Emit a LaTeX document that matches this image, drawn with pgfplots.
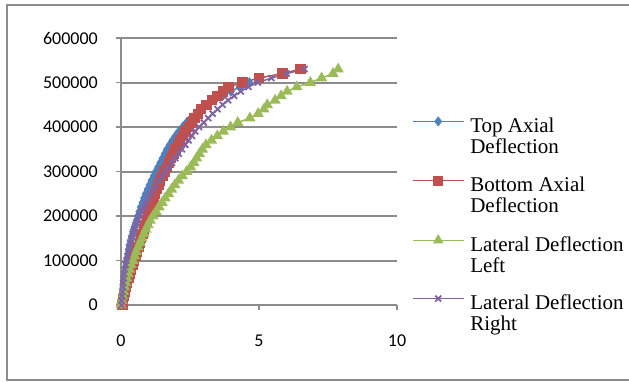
\documentclass[border=0pt]{standalone}
\usepackage{pgfplots}
\pgfplotsset{compat=1.18}
\usepackage{fontspec}
\setmainfont{Liberation Serif}
\newfontfamily\tickfont{Carlito}

\definecolor{topc}{HTML}{4F81BD}
\definecolor{botc}{HTML}{C0504D}
\definecolor{leftc}{HTML}{9BBB59}
\definecolor{rightc}{HTML}{8064A2}
\definecolor{gridc}{HTML}{8C8C8C}

% load (N) against deflection (mm)
\pgfplotstableread{
x y
0.00 0
0.03 10000
0.05 20000
0.07 30000
0.09 40000
0.11 50000
0.13 60000
0.15 70000
0.18 80000
0.20 90000
0.23 100000
0.26 110000
0.29 120000
0.32 130000
0.35 140000
0.39 150000
0.43 160000
0.47 170000
0.52 180000
0.57 190000
0.62 200000
0.67 210000
0.72 220000
0.78 230000
0.84 240000
0.90 250000
0.97 260000
1.04 270000
1.11 280000
1.19 290000
1.27 300000
1.35 310000
1.43 320000
1.51 330000
1.59 340000
1.67 350000
1.77 360000
1.87 370000
1.98 380000
2.10 390000
2.24 400000
2.38 410000
2.54 420000
2.72 430000
2.92 440000
3.14 450000
3.40 460000
3.68 470000
3.98 480000
4.30 490000
4.65 500000
}\toptable

\pgfplotstableread{
x y
0.05 0
0.07 10000
0.10 20000
0.14 30000
0.18 40000
0.22 50000
0.27 60000
0.32 70000
0.37 80000
0.42 90000
0.48 100000
0.53 110000
0.58 120000
0.63 130000
0.68 140000
0.73 150000
0.78 160000
0.83 170000
0.88 180000
0.93 190000
0.98 200000
1.03 210000
1.08 220000
1.13 230000
1.18 240000
1.24 250000
1.30 260000
1.36 270000
1.42 280000
1.50 290000
1.58 300000
1.66 310000
1.74 320000
1.82 330000
1.90 340000
1.98 350000
2.06 360000
2.14 370000
2.24 380000
2.34 390000
2.46 400000
2.56 410000
2.66 420000
2.78 430000
2.90 440000
3.10 450000
3.30 460000
3.50 470000
3.70 480000
3.90 490000
4.40 500000
5.00 510000
5.85 520000
6.50 530000
}\bottable

\pgfplotstableread{
x y
0.00 0
0.03 10000
0.06 20000
0.09 30000
0.13 40000
0.17 50000
0.21 60000
0.26 70000
0.31 80000
0.37 90000
0.43 100000
0.49 110000
0.55 120000
0.62 130000
0.69 140000
0.76 150000
0.83 160000
0.90 170000
0.98 180000
1.06 190000
1.16 200000
1.27 210000
1.38 220000
1.49 230000
1.60 240000
1.72 250000
1.83 260000
1.95 270000
2.08 280000
2.22 290000
2.38 300000
2.52 310000
2.64 320000
2.74 330000
2.84 340000
2.95 350000
3.08 360000
3.28 370000
3.49 380000
3.71 390000
3.97 400000
4.23 410000
4.67 420000
4.97 430000
5.18 440000
5.30 450000
5.58 460000
5.80 470000
6.02 480000
6.37 490000
6.86 500000
7.27 510000
7.68 520000
7.87 530000
}\lefttable

\pgfplotstableread{
x y
0.02 0
0.02 10000
0.04 20000
0.05 30000
0.07 40000
0.08 50000
0.10 60000
0.12 70000
0.14 80000
0.17 90000
0.20 100000
0.23 110000
0.26 120000
0.29 130000
0.33 140000
0.37 150000
0.42 160000
0.47 170000
0.53 180000
0.60 190000
0.67 200000
0.75 210000
0.83 220000
0.91 230000
0.99 240000
1.08 250000
1.17 260000
1.27 270000
1.38 280000
1.49 290000
1.61 300000
1.73 310000
1.85 320000
1.97 330000
2.09 340000
2.21 350000
2.33 360000
2.45 370000
2.57 380000
2.69 390000
2.83 400000
3.00 410000
3.16 420000
3.32 430000
3.50 440000
3.68 450000
3.88 460000
4.10 470000
4.34 480000
4.62 490000
4.96 500000
5.45 510000
6.00 520000
6.65 530000
}\righttable

\newcommand{\lentry}[1]{\parbox[t]{160pt}{\fontsize{21}{20.7}\selectfont #1}}

\begin{document}
\begin{tikzpicture}
\useasboundingbox (-121pt,-76pt) rectangle (508pt,305pt);
\draw[gridc, line width=2pt] (520pt,299.5pt) -- (-113.5pt,299.5pt) -- (-113.5pt,-74.5pt) -- (520pt,-74.5pt);
\begin{axis}[
  at={(0pt,0pt)}, anchor=origin,
  scale only axis,
  width=276pt, height=267pt,
  xmin=0, xmax=10, ymin=0, ymax=600000,
  xtick={0,5,10}, ytick={0,100000,...,600000},
  axis x line*=bottom, axis y line*=left,
  axis line style={gridc, line width=2pt, -},
  tick align=outside,
  major tick length=5pt,
  tick style={gridc, line width=1.5pt},
  ymajorgrids,
  major grid style={gridc, line width=2pt},
  scaled y ticks=false,
  y tick label style={/pgf/number format/fixed, /pgf/number format/1000 sep={}},
  /pgf/number format/assume math mode=true,
  ticklabel style={font=\tickfont\fontsize{18}{18}\selectfont, inner sep=0pt},
  yticklabel style={xshift=-18pt},
  xticklabel style={yshift=-25pt},
  clip=false,
  legend style={draw=none, fill=none, inner sep=0pt,
    at={(axis description cs:1.054,0.704)}, anchor=north west,
    column sep=6pt, row sep=42pt,
    nodes={inner sep=0pt}},
  legend cell align=left,
  legend image code/.code={
    \draw[mark repeat=2,mark phase=2,line width=1.2pt]
      plot coordinates {(0pt,4.7pt) (25.5pt,4.7pt) (51pt,4.7pt)};},
]
\addplot[topc, line width=1.5pt, mark=diamond*, mark size=4.2pt, mark options={solid}] table {\toptable};
\addlegendentry{\lentry{Top Axial\\Deflection}}
\addplot[botc, line width=1.5pt, mark=square*, mark size=4.4pt] table {\bottable};
\addlegendentry{\lentry{Bottom Axial\\Deflection}}
\addplot[leftc, line width=1.5pt, mark=triangle*, mark size=5pt] table {\lefttable};
\addlegendentry{\lentry{Lateral Deflection\\Left}}
\addplot[rightc, line width=1.5pt, mark=x, mark size=4.2pt, mark options={line width=1.8pt}] table {\righttable};
\addlegendentry{\lentry{Lateral Deflection\\Right}}
\end{axis}
\end{tikzpicture}
\end{document}
